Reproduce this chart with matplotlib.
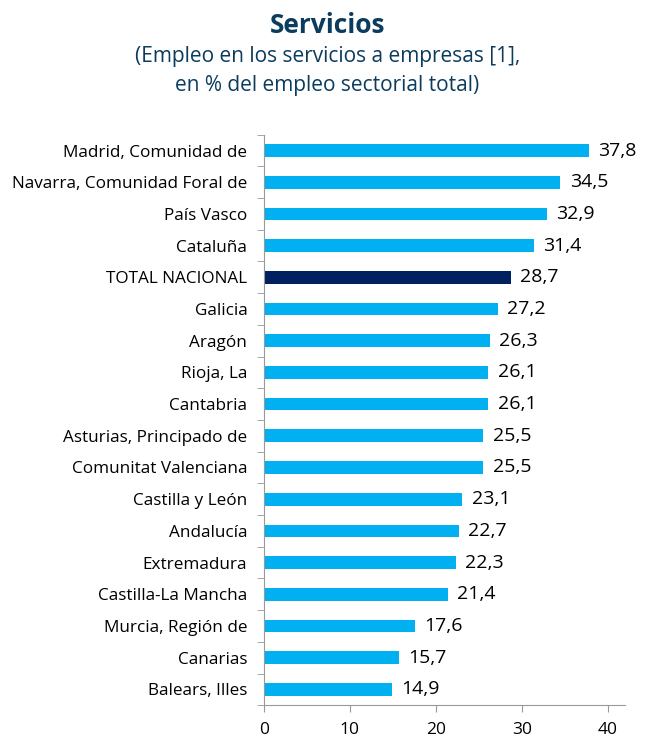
import matplotlib
matplotlib.use("Agg")
from matplotlib import pyplot as plt
import numpy as np

regions = ["Madrid, Comunidad de", "Navarra, Comunidad Foral de", "País Vasco",
           "Cataluña", "TOTAL NACIONAL", "Galicia", "Aragón", "Rioja, La",
           "Cantabria", "Asturias, Principado de", "Comunitat Valenciana",
           "Castilla y León", "Andalucía", "Extremadura", "Castilla-La Mancha",
           "Murcia, Región de", "Canarias", "Balears, Illes"]
values = [37.8, 34.5, 32.9, 31.4, 28.7, 27.2, 26.3, 26.1, 26.1, 25.5, 25.5,
          23.1, 22.7, 22.3, 21.4, 17.6, 15.7, 14.9]
x_ticks = [0, 10, 20, 30, 40]

plt.rcParams['font.family'] = ['Open Sans', 'DejaVu Sans']

fig = plt.figure(figsize=(6.55, 7.4), dpi=100)
ax = fig.add_axes([0.403, 0.047, 0.551, 0.771])

y = np.arange(len(regions))
colors = ['#002060' if r == "TOTAL NACIONAL" else '#00B0F0' for r in regions]
ax.barh(y, values, height=0.4, color=colors)

for yi, v in zip(y, values):
    ax.text(v + 1.1, yi, f"{v:.1f}".replace(".", ","), va='center', ha='left', fontsize=14)

ax.set_ylim(len(regions) - 0.5, -0.5)
ax.set_xlim(0, 42)
ax.set_xticks(x_ticks)
ax.tick_params(axis='x', labelsize=12.5, length=5, color='#999999', pad=7)

ax.set_yticks(y)
ax.set_yticklabels(regions, fontsize=12.3)
ax.tick_params(axis='y', which='major', length=0, pad=12)
ax.set_yticks(np.arange(-0.5, len(regions), 1), minor=True)
ax.tick_params(axis='y', which='minor', length=5, color='#999999')

for s in ['top', 'right']:
    ax.spines[s].set_visible(False)
for s in ['left', 'bottom']:
    ax.spines[s].set_color('#999999')

fig.text(0.5, 0.966, "Servicios", ha='center', va='center', fontsize=19,
         fontweight='bold', color='#0B3C5D')
fig.text(0.5, 0.904, "(Empleo en los servicios a empresas [1],\nen % del empleo sectorial total)",
         ha='center', va='center', fontsize=15, color='#0B3C5D', linespacing=1.45)

fig.savefig("out.png", dpi=100)
